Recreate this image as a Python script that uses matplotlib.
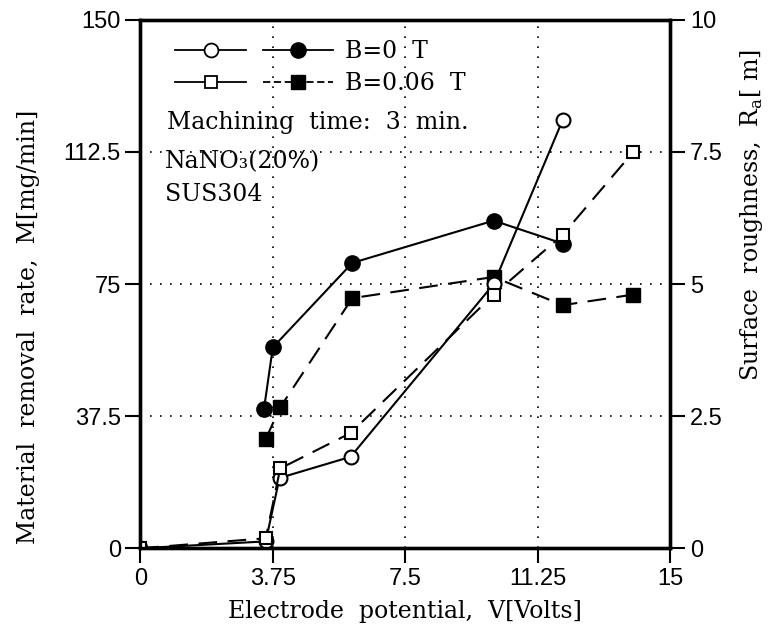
import matplotlib.pyplot as plt
from matplotlib.lines import Line2D

plt.rcParams["font.family"] = "Liberation Sans"

# electrode potential [V] and measured values
v_open_circle = [0, 3.55, 3.94, 5.95, 10.0, 11.95]
ra_open_circle = [0, 0.13, 1.33, 1.73, 5.0, 8.1]

v_open_square = [0, 3.55, 3.96, 5.95, 10.0, 11.95, 13.95]
ra_open_square = [0, 0.19, 1.51, 2.18, 4.8, 5.93, 7.5]

v_fill_circle = [3.5, 3.75, 6.0, 10.0, 11.95]
mrr_fill_circle = [39.5, 57, 81, 93, 86.5]

v_fill_square = [3.55, 3.96, 6.0, 10.0, 11.95, 13.95]
mrr_fill_square = [31, 40, 71, 77, 69, 72]

x_ticks = [0, 3.75, 7.5, 11.25, 15]
x_labels = ["0", "3.75", "7.5", "11.25", "15"]
y_ticks = [0, 37.5, 75, 112.5, 150]
y_labels = ["0", "37.5", "75", "112.5", "150"]
y2_ticks = [0, 2.5, 5, 7.5, 10]
y2_labels = ["0", "2.5", "5", "7.5", "10"]

serif = "DejaVu Serif"
sans = "Liberation Sans"
dash = (0, (9, 5))
fs_tick = 17
fs_text = 17

fig = plt.figure(figsize=(7.75, 6.39), dpi=100)
ax = fig.add_axes([0.181, 0.142, 0.684, 0.827])
ax2 = ax.twinx()

ax.set_xlim(0, 15)
ax.set_ylim(0, 150)
ax2.set_ylim(0, 10)

# dotted grid
for g in [3.75, 7.5, 11.25]:
    ax.axvline(g, color="black", lw=1.2, ls=(0, (1, 5)), zorder=0)
for g in [37.5, 75, 112.5]:
    ax.axhline(g, color="black", lw=1.2, ls=(0, (1, 5)), zorder=0)

ms = 11
ax2.plot(v_open_circle, ra_open_circle, "-", color="black", lw=1.5,
         marker="o", ms=ms - 1, mfc="white", mec="black", mew=1.5)
ax2.plot(v_open_square, ra_open_square, color="black", lw=1.5, ls=dash,
         marker="s", ms=ms - 2, mfc="white", mec="black", mew=1.5)
ax.plot(v_fill_circle, mrr_fill_circle, "-", color="black", lw=1.5,
        marker="o", ms=ms, mfc="black", mec="black")
ax.plot(v_fill_square, mrr_fill_square, color="black", lw=1.5, ls=dash,
        marker="s", ms=ms - 1, mfc="black", mec="black")

for a in (ax, ax2):
    for s in a.spines.values():
        s.set_linewidth(2.4)

ax.set_xticks(x_ticks)
ax.set_xticklabels(x_labels, fontfamily=sans, fontsize=fs_tick)
ax.set_yticks(y_ticks)
ax.set_yticklabels(y_labels, fontfamily=sans, fontsize=fs_tick)
ax2.set_yticks(y2_ticks)
ax2.set_yticklabels(y2_labels, fontfamily=sans, fontsize=fs_tick)
ax.tick_params(direction="out", length=11, width=1.5, pad=3)
ax2.tick_params(direction="out", length=11, width=1.5, pad=3)

ax.set_xlabel("Electrode  potential,  V[Volts]", fontfamily=serif, fontsize=fs_text)
ax.set_ylabel("Material  removal  rate,  M[mg/min]", fontfamily=serif, fontsize=fs_text)
ax2.set_ylabel(r"Surface  roughness,  R$_\mathregular{a}$[ m]", fontfamily=serif,
               fontsize=fs_text)
ax.xaxis.set_label_coords(0.5, -0.097)
ax.yaxis.set_label_coords(-0.19, 0.418)
ax2.yaxis.set_label_coords(1.128, 0.63)

# legend: open symbols in first column, filled symbols with labels in second
h_oc = Line2D([], [], color="black", lw=1.3, marker="o", ms=ms - 1, mfc="white", mec="black", mew=1.3)
h_os = Line2D([], [], color="black", lw=1.3, marker="s", ms=ms - 2, mfc="white", mec="black", mew=1.3)
h_fc = Line2D([], [], color="black", lw=1.3, marker="o", ms=ms, mfc="black", mec="black")
h_fs = Line2D([], [], color="black", lw=1.3, ls=(0, (4, 2)), marker="s", ms=ms - 1, mfc="black", mec="black")
ax2.legend([h_oc, h_os, h_fc, h_fs], ["", "", "B=0  T", "B=0.06  T"], ncol=2,
           loc="upper left", bbox_to_anchor=(0.066, 0.962), frameon=False,
           borderpad=0, borderaxespad=0,
           handlelength=3.0, handletextpad=0.5, columnspacing=0.2,
           labelspacing=0.4, prop={"family": serif, "size": fs_text})

ax.text(0.051, 0.794, "Machining  time:  3  min.", transform=ax.transAxes,
        fontfamily=serif, fontsize=fs_text, va="baseline")
ax.text(0.047, 0.72, "NaNO\u2083(20%)", transform=ax.transAxes,
        fontfamily=serif, fontsize=fs_text, va="baseline")
ax.text(0.047, 0.657, "SUS304", transform=ax.transAxes,
        fontfamily=serif, fontsize=fs_text, va="baseline")

fig.savefig("out.png", dpi=100)
